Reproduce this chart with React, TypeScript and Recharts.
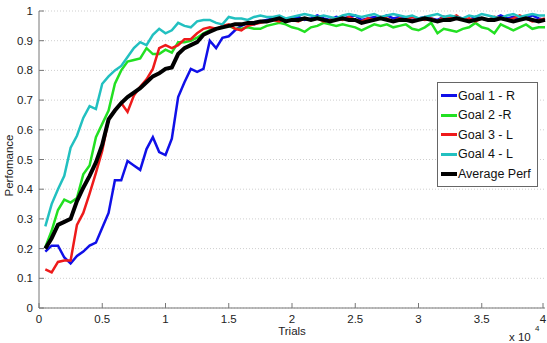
import React from 'react'
import { LineChart, Line, XAxis, YAxis, CartesianGrid, Legend } from 'recharts'

// trials in units of 10^4
const trials = [
  0.05, 0.1, 0.15, 0.2, 0.25, 0.3, 0.35, 0.4, 0.45, 0.5,
  0.55, 0.6, 0.65, 0.7, 0.75, 0.8, 0.85, 0.9, 0.95, 1.0,
  1.05, 1.1, 1.15, 1.2, 1.25, 1.3, 1.35, 1.4, 1.45, 1.5,
  1.55, 1.6, 1.65, 1.7, 1.75, 1.8, 1.85, 1.9, 1.95, 2.0,
  2.05, 2.1, 2.15, 2.2, 2.25, 2.3, 2.35, 2.4, 2.45, 2.5,
  2.55, 2.6, 2.65, 2.7, 2.75, 2.8, 2.85, 2.9, 2.95, 3.0,
  3.05, 3.1, 3.15, 3.2, 3.25, 3.3, 3.35, 3.4, 3.45, 3.5,
  3.55, 3.6, 3.65, 3.7, 3.75, 3.8, 3.85, 3.9, 3.95, 4.0,
]

const goal1 = [
  0.19, 0.21, 0.21, 0.17, 0.15, 0.175, 0.19, 0.21, 0.22, 0.27,
  0.32, 0.43, 0.43, 0.495, 0.48, 0.465, 0.535, 0.575, 0.525, 0.515,
  0.57, 0.71, 0.76, 0.805, 0.795, 0.805, 0.9, 0.875, 0.91, 0.915,
  0.935, 0.95, 0.96, 0.955, 0.965, 0.97, 0.975, 0.98, 0.965, 0.975,
  0.98, 0.97, 0.975, 0.985, 0.975, 0.97, 0.98, 0.975, 0.98, 0.985,
  0.97, 0.975, 0.98, 0.975, 0.985, 0.975, 0.98, 0.975, 0.97, 0.975,
  0.98, 0.975, 0.97, 0.98, 0.975, 0.98, 0.975, 0.97, 0.98, 0.975,
  0.97, 0.975, 0.985, 0.975, 0.98, 0.97, 0.975, 0.985, 0.975, 0.97,
]

const goal2 = [
  0.205, 0.26, 0.33, 0.365, 0.355, 0.37, 0.45, 0.48, 0.575, 0.62,
  0.665, 0.755, 0.8, 0.83, 0.835, 0.84, 0.875, 0.855, 0.855, 0.87,
  0.86, 0.895, 0.895, 0.9, 0.91, 0.925, 0.935, 0.94, 0.945, 0.95,
  0.94, 0.94, 0.945, 0.94, 0.94, 0.95, 0.955, 0.96, 0.955, 0.945,
  0.94, 0.93, 0.945, 0.95, 0.96, 0.955, 0.95, 0.955, 0.95, 0.945,
  0.935, 0.945, 0.955, 0.95, 0.955, 0.945, 0.95, 0.955, 0.94, 0.935,
  0.945, 0.96, 0.925, 0.94, 0.935, 0.93, 0.94, 0.945, 0.96, 0.945,
  0.94, 0.925, 0.955, 0.945, 0.935, 0.945, 0.955, 0.94, 0.945, 0.945,
]

const goal3 = [
  0.13, 0.12, 0.155, 0.16, 0.16, 0.28, 0.32, 0.385, 0.455, 0.53,
  0.635, 0.665, 0.69, 0.66, 0.715, 0.745, 0.77, 0.805, 0.875, 0.885,
  0.875, 0.885, 0.905, 0.905, 0.925, 0.94, 0.945, 0.94, 0.95, 0.955,
  0.94, 0.935, 0.95, 0.955, 0.96, 0.965, 0.97, 0.965, 0.975, 0.97,
  0.965, 0.975, 0.97, 0.975, 0.965, 0.97, 0.975, 0.97, 0.98, 0.97,
  0.965, 0.975, 0.97, 0.98, 0.975, 0.965, 0.975, 0.97, 0.98, 0.975,
  0.97, 0.975, 0.965, 0.98, 0.975, 0.985, 0.97, 0.975, 0.965, 0.975,
  0.97, 0.98, 0.975, 0.97, 0.975, 0.985, 0.975, 0.965, 0.97, 0.975,
]

const goal4 = [
  0.275, 0.35, 0.4, 0.445, 0.54, 0.58, 0.64, 0.68, 0.67, 0.755,
  0.78, 0.8, 0.815, 0.845, 0.875, 0.895, 0.885, 0.92, 0.94, 0.925,
  0.935, 0.96, 0.95, 0.945, 0.965, 0.97, 0.97, 0.96, 0.955, 0.98,
  0.975, 0.975, 0.97, 0.98, 0.985, 0.98, 0.98, 0.985, 0.975, 0.98,
  0.985, 0.99, 0.985, 0.98, 0.985, 0.98, 0.975, 0.985, 0.99, 0.985,
  0.98, 0.985, 0.99, 0.98, 0.985, 0.99, 0.985, 0.98, 0.985, 0.975,
  0.98, 0.985, 0.99, 0.98, 0.985, 0.98, 0.975, 0.985, 0.98, 0.99,
  0.985, 0.98, 0.975, 0.985, 0.99, 0.98, 0.985, 0.99, 0.985, 0.985,
]

const average = [
  0.2, 0.235, 0.28, 0.29, 0.3, 0.36, 0.405, 0.445, 0.49, 0.55,
  0.635, 0.665, 0.69, 0.71, 0.725, 0.74, 0.76, 0.78, 0.79, 0.805,
  0.81, 0.855, 0.875, 0.885, 0.895, 0.92, 0.93, 0.94, 0.945, 0.95,
  0.955, 0.955, 0.96, 0.96, 0.965, 0.965, 0.97, 0.975, 0.965, 0.97,
  0.97, 0.975, 0.97, 0.975, 0.97, 0.965, 0.97, 0.975, 0.97, 0.97,
  0.96, 0.965, 0.97, 0.975, 0.97, 0.965, 0.97, 0.97, 0.965, 0.97,
  0.975, 0.97, 0.965, 0.97, 0.97, 0.975, 0.97, 0.965, 0.97, 0.975,
  0.97, 0.97, 0.975, 0.97, 0.965, 0.97, 0.975, 0.97, 0.965, 0.97,
]

const seriesNames = ['Goal 1 - R', 'Goal 2 -R', 'Goal 3 - L', 'Goal 4 - L', 'Average Perf']
const xTicks = [0, 0.5, 1, 1.5, 2, 2.5, 3, 3.5, 4]
const yTicks = [0, 0.1, 0.2, 0.3, 0.4, 0.5, 0.6, 0.7, 0.8, 0.9, 1]

const data = trials.map((t, i) => ({
  trials: t,
  g1: goal1[i],
  g2: goal2[i],
  g3: goal3[i],
  g4: goal4[i],
  avg: average[i],
}))

const FONT = '"Liberation Sans", Arial, sans-serif'
const AXIS = '#777'

function XTick(props: any) {
  const { x, y, payload } = props
  return (
    <g>
      <line x1={x} y1={y} x2={x} y2={y - 5} stroke={AXIS} />
      <text x={x} y={y + 15} textAnchor="middle" fontSize={11.5} fontFamily={FONT} fill="#222">
        {String(payload.value)}
      </text>
    </g>
  )
}

function YTick(props: any) {
  const { x, y, payload } = props
  return (
    <g>
      <line x1={x} y1={y} x2={x + 5} y2={y} stroke={AXIS} />
      <text x={x - 6} y={y + 4} textAnchor="end" fontSize={11.5} fontFamily={FONT} fill="#222">
        {String(payload.value)}
      </text>
    </g>
  )
}

function LegendBox(props: any) {
  const items = [...(props.payload || [])].sort(
    (a: any, b: any) => seriesNames.indexOf(a.value) - seriesNames.indexOf(b.value)
  )
  return (
    <div
      style={{
        border: '1px solid #666',
        background: '#fff',
        padding: '3px 0 2px 3px',
        fontFamily: FONT,
        fontSize: 12.5,
        color: '#111',
        textAlign: 'left',
      }}
    >
      {items.map((e: any) => (
        <div key={e.value} style={{ display: 'flex', alignItems: 'center', height: 19.5 }}>
          <span
            style={{
              display: 'inline-block',
              width: 16,
              height: e.value === 'Average Perf' ? 4 : 3,
              background: e.color,
              marginRight: 1,
            }}
          />
          {e.value}
        </div>
      ))}
    </div>
  )
}

export default function App() {
  return (
    <div style={{ position: 'absolute', left: 0, top: 0, width: 547, height: 343, background: '#fff' }}>
      <LineChart width={547} height={343} data={data} margin={{ top: 11, right: 2, left: 0, bottom: 0 }}>
        <CartesianGrid vertical={false} stroke="#cfcfcf" strokeDasharray="1 2" />
        <XAxis
          dataKey="trials"
          type="number"
          domain={[0, 4]}
          ticks={xTicks}
          height={35}
          tickSize={0}
          tickMargin={0}
          tickLine={false}
          axisLine={{ stroke: AXIS }}
          tick={<XTick />}
          label={(p: any) => {
            const vb = p.viewBox || { x: 39, y: 308, width: 506, height: 35 }
            return (
              <g>
                <text x={vb.x + vb.width / 2} y={vb.y + 27} textAnchor="middle" fontSize={11.5} fontFamily={FONT} fill="#222">
                  Trials
                </text>
                <text x={vb.x + vb.width - 36} y={vb.y + 33} fontSize={11.5} fontFamily={FONT} fill="#222">
                  x 10
                </text>
                <text x={vb.x + vb.width - 10} y={vb.y + 23} fontSize={8} fontFamily={FONT} fill="#222">
                  4
                </text>
              </g>
            )
          }}
        />
        <YAxis
          type="number"
          domain={[0, 1]}
          ticks={yTicks}
          width={39}
          tickSize={0}
          tickMargin={0}
          tickLine={false}
          axisLine={{ stroke: AXIS }}
          tick={<YTick />}
          label={(p: any) => {
            const vb = p.viewBox || { x: 0, y: 11, width: 39, height: 297 }
            const cx = vb.x + 13
            const cy = vb.y + vb.height / 2 + 6
            return (
              <text
                x={cx}
                y={cy}
                transform={`rotate(-90 ${cx} ${cy})`}
                textAnchor="middle"
                fontSize={11.5}
                fontFamily={FONT}
                fill="#222"
              >
                Perfomance
              </text>
            )
          }}
        />
        <Legend
          layout="horizontal"
          verticalAlign="middle"
          align="center"
          content={<LegendBox />}
          wrapperStyle={{ position: 'absolute', left: 437, top: 82, width: 101, right: 'auto', bottom: 'auto' }}
        />
        <Line dataKey="g1" name={seriesNames[0]} stroke="#1010e8" strokeWidth={2.5} dot={false} isAnimationActive={false} />
        <Line dataKey="g2" name={seriesNames[1]} stroke="#22e022" strokeWidth={2.5} dot={false} isAnimationActive={false} />
        <Line dataKey="g3" name={seriesNames[2]} stroke="#ee1a1a" strokeWidth={2.5} dot={false} isAnimationActive={false} />
        <Line dataKey="g4" name={seriesNames[3]} stroke="#22c0c0" strokeWidth={2.5} dot={false} isAnimationActive={false} />
        <Line dataKey="avg" name={seriesNames[4]} stroke="#000" strokeWidth={4} dot={false} isAnimationActive={false} />
      </LineChart>
    </div>
  )
}
